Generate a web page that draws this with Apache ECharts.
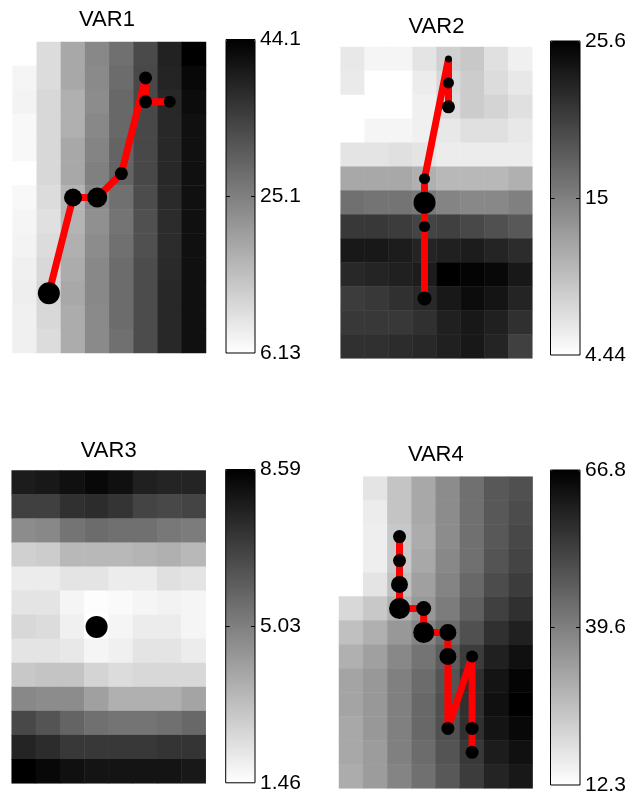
<!DOCTYPE html>
<html><head><meta charset="utf-8">
<script src="https://cdn.jsdelivr.net/npm/echarts@6/dist/echarts.min.js"></script>
<style>html,body{margin:0;padding:0;background:#fff}#c{width:642px;height:794px}</style>
</head><body><div id="c"></div>
<script>
// ---------- data ----------
const titles = ['VAR1', 'VAR2', 'VAR3', 'VAR4'];
const colCats = ['1','2','3','4','5','6','7','8'];
const rowCats = ['1','2','3','4','5','6','7','8','9','10','11','12','13'];

// cell values (rows top->bottom, 8 columns each)
const var1Values = [
  [null, 11.3, 19.1, 23.9, 27.4, 33.1, 39.0, 44.1],
  [7.6, 11.3, 19.1, 23.6, 28.0, 33.4, 38.7, 42.9],
  [7.9, 11.9, 17.9, 23.3, 28.6, 33.4, 38.1, 42.3],
  [7.2, 11.9, 17.9, 23.9, 28.6, 33.4, 38.1, 41.7],
  [7.2, 11.9, 19.1, 24.5, 29.2, 33.4, 38.1, 41.7],
  [6.13, 11.9, 19.1, 25.0, 29.2, 33.4, 38.1, 41.7],
  [7.2, 11.3, 17.3, 23.9, 27.4, 32.8, 37.9, 41.7],
  [7.6, 10.8, 17.3, 22.7, 26.8, 32.2, 37.6, 41.7],
  [7.9, 11.3, 17.9, 23.3, 27.4, 32.2, 37.6, 41.7],
  [8.4, 11.9, 18.5, 23.9, 28.0, 32.8, 37.9, 41.7],
  [8.7, 12.2, 19.1, 23.9, 28.0, 32.8, 38.1, 41.7],
  [8.4, 11.9, 18.5, 23.6, 28.0, 32.8, 38.1, 41.7],
  [8.4, 11.3, 18.5, 23.6, 27.4, 32.8, 38.1, 41.7]
];
const var2Values = [
  [6.35, 5.27, 5.27, 6.68, 8.34, 9.0, 7.01, 5.68],
  [6.18, 4.44, 4.44, 6.02, 7.68, 8.67, 7.34, 6.35],
  [4.44, 4.44, 4.44, 5.68, 7.34, 8.67, 8.01, 7.01],
  [4.44, 5.27, 5.27, 5.68, 6.35, 7.01, 7.01, 6.35],
  [6.68, 6.68, 7.01, 6.68, 6.02, 6.02, 6.02, 6.02],
  [11.66, 11.66, 11.66, 11.0, 10.33, 10.33, 10.33, 11.0],
  [16.31, 15.97, 15.97, 15.64, 14.65, 14.31, 14.31, 14.98],
  [20.95, 20.95, 20.62, 19.96, 20.29, 19.63, 18.96, 18.3],
  [23.61, 23.61, 23.28, 22.61, 22.94, 23.28, 22.61, 21.95],
  [22.28, 22.61, 22.94, 23.28, 25.6, 25.27, 24.94, 23.61],
  [20.62, 20.95, 21.62, 22.28, 23.61, 24.6, 23.94, 22.61],
  [20.95, 20.95, 20.95, 21.62, 22.94, 23.61, 22.94, 21.62],
  [21.62, 21.62, 21.95, 22.28, 22.94, 23.61, 22.61, 20.29]
];
const var3Values = [
  [7.81, 7.92, 8.14, 8.37, 8.14, 7.70, 7.58, 7.58],
  [6.80, 6.80, 7.25, 7.36, 7.14, 6.69, 6.58, 6.69],
  [4.68, 4.79, 5.35, 5.57, 5.46, 5.46, 5.23, 5.12],
  [2.77, 2.89, 3.45, 3.45, 3.45, 3.56, 3.67, 3.45],
  [1.99, 1.99, 2.22, 2.22, 1.99, 1.99, 2.33, 2.22],
  [2.22, 2.22, 1.74, 1.52, 1.60, 1.74, 1.82, 1.74],
  [2.55, 2.44, 1.88, 1.46, 1.74, 1.99, 1.99, 1.74],
  [2.22, 2.22, 2.10, 1.74, 1.88, 2.22, 2.22, 1.99],
  [3.00, 3.11, 3.11, 2.66, 2.44, 2.55, 2.55, 2.55],
  [4.79, 4.68, 4.68, 4.12, 3.67, 3.67, 3.67, 4.00],
  [6.58, 6.24, 5.79, 5.46, 5.35, 5.35, 5.46, 5.68],
  [7.58, 7.36, 7.02, 7.02, 7.02, 7.02, 7.14, 7.14],
  [8.59, 8.37, 8.14, 8.03, 8.03, 8.03, 8.03, 7.92]
];
const var4Values = [
  [null, 18.07, 24.91, 30.89, 36.88, 42.86, 47.99, 49.70],
  [null, 16.36, 24.91, 30.89, 36.88, 42.86, 47.99, 50.56],
  [null, 15.93, 24.05, 30.04, 36.88, 42.86, 47.99, 51.41],
  [null, 15.93, 24.05, 30.89, 37.73, 42.86, 48.85, 52.27],
  [12.3, 18.07, 25.76, 32.60, 38.59, 44.57, 50.56, 53.98],
  [20.63, 24.05, 29.18, 34.31, 40.30, 46.28, 53.12, 56.54],
  [25.76, 29.18, 34.31, 38.59, 43.72, 49.70, 56.54, 59.96],
  [29.18, 32.60, 37.73, 42.01, 47.14, 53.98, 59.96, 63.38],
  [31.75, 34.31, 39.44, 43.72, 48.85, 56.54, 62.53, 65.95],
  [31.75, 34.31, 39.44, 44.57, 49.70, 56.54, 63.38, 66.8],
  [30.89, 34.31, 39.44, 44.57, 49.70, 56.54, 62.53, 65.10],
  [30.89, 33.46, 39.44, 43.72, 48.85, 54.83, 60.82, 63.38],
  [30.04, 33.46, 38.59, 42.86, 47.99, 53.98, 59.11, 61.67]
];

// colour-scale ranges and colorbar tick labels
const var1Range = [6.13, 44.1];
const var2Range = [4.44, 25.6];
const var3Range = [1.46, 8.59];
const var4Range = [12.3, 66.8];
const var1Ticks = [6.13, 25.1, 44.1];
const var2Ticks = [4.44, 15, 25.6];
const var3Ticks = [1.46, 5.03, 8.59];
const var4Ticks = [12.3, 39.6, 66.8];

// tracked paths (column index, row index) and dot sizes
const var1PathCol = [1, 2, 3, 4, 5, 5, 6];
const var1PathRow = [10, 6, 6, 5, 1, 2, 2];
const var1DotSize = [22, 18, 20, 13, 13, 13, 12];
const var2PathCol = [4, 4, 4, 3, 3, 3, 3];
const var2PathRow = [2, 1, 0, 5, 6, 7, 10];
const var2DotSize = [13, 11, 7, 11, 22, 11, 14];
const var3PathCol = [3];
const var3PathRow = [6];
const var3DotSize = [22];
const var4PathCol = [2, 2, 2, 2, 3, 3, 4, 4, 4, 5, 5, 5];
const var4PathRow = [2, 3, 4, 5, 5, 6, 6, 7, 10, 7, 10, 11];
const var4DotSize = [13, 13, 17, 21, 15, 21, 17, 17, 13, 12, 13, 13];

// ---------- layout (pixels) ----------
const layout = [
  {map: {left: 12.6, top: 42, width: 193.4, height: 311}, bar: {left: 226, top: 39.5, width: 29, height: 313.5}, title: {x: 107, y: 9}},
  {map: {left: 340.7, top: 47, width: 191.6, height: 311.3}, bar: {left: 550.5, top: 41, width: 29.5, height: 314}, title: {x: 436.5, y: 15.5}},
  {map: {left: 11.7, top: 470.5, width: 194, height: 312.8}, bar: {left: 225.7, top: 469.5, width: 29.3, height: 313.3}, title: {x: 108.7, y: 439.5}},
  {map: {left: 339, top: 476.7, width: 193.6, height: 311.6}, bar: {left: 550.5, top: 470, width: 29.5, height: 315}, title: {x: 435.8, y: 444}}
];

const panels = [
  {values: var1Values, range: var1Range, ticks: var1Ticks, pc: var1PathCol, pr: var1PathRow, ps: var1DotSize},
  {values: var2Values, range: var2Range, ticks: var2Ticks, pc: var2PathCol, pr: var2PathRow, ps: var2DotSize},
  {values: var3Values, range: var3Range, ticks: var3Ticks, pc: var3PathCol, pr: var3PathRow, ps: var3DotSize},
  {values: var4Values, range: var4Range, ticks: var4Ticks, pc: var4PathCol, pr: var4PathRow, ps: var4DotSize}
];

const FONT = "'Liberation Sans', Arial, sans-serif";
const grid = [], xAxis = [], yAxis = [], series = [], visualMap = [], title = [];

panels.forEach((p, i) => {
  const L = layout[i];
  const gMap = grid.length;
  grid.push(Object.assign({show: false, containLabel: false, outerBoundsMode: 'none'}, L.map));
  const gBar = grid.length;
  grid.push(Object.assign({show: true, containLabel: false, outerBoundsMode: 'none', borderColor: '#000', borderWidth: 1,
    backgroundColor: 'rgba(0,0,0,0)', z: 20}, L.bar));

  const xMap = xAxis.length;
  xAxis.push({type: 'category', gridIndex: gMap, data: colCats, show: false});
  xAxis.push({type: 'value', gridIndex: gBar, show: false, min: 0, max: 1});

  const yMap = yAxis.length;
  yAxis.push({type: 'category', gridIndex: gMap, data: rowCats, inverse: true, show: false});
  const mid = p.ticks[1];
  // labels to the right of the colorbar
  yAxis.push({type: 'value', gridIndex: gBar, position: 'right', min: p.range[0], max: p.range[1], z: 20,
    axisLine: {show: false}, splitLine: {show: false}, axisTick: {show: false},
    axisLabel: {show: true, customValues: p.ticks, margin: 5, color: '#000', fontSize: 21, fontFamily: FONT,
      formatter: v => String(v)}});
  // inward tick on the left edge
  yAxis.push({type: 'value', gridIndex: gBar, position: 'left', min: p.range[0], max: p.range[1], z: 20,
    axisLine: {show: false}, splitLine: {show: false}, axisLabel: {show: false},
    axisTick: {show: true, inside: true, length: 4, customValues: [mid], lineStyle: {color: '#000', width: 1}}});
  // inward tick on the right edge
  yAxis.push({type: 'value', gridIndex: gBar, position: 'left', offset: -L.bar.width, min: p.range[0], max: p.range[1], z: 20,
    axisLine: {show: false}, splitLine: {show: false}, axisLabel: {show: false},
    axisTick: {show: true, inside: false, length: 4, customValues: [mid], lineStyle: {color: '#000', width: 1}}});

  const cells = [];
  p.values.forEach((row, r) => row.forEach((v, c) => { if (v !== null) cells.push([c, r, v]); }));
  const sHeat = series.length;
  series.push({type: 'heatmap', xAxisIndex: xMap, yAxisIndex: yMap, data: cells, itemStyle: {borderWidth: 0}, emphasis: {disabled: true}});
  const pts = p.pc.map((c, k) => [c, p.pr[k]]);
  series.push({type: 'line', xAxisIndex: xMap, yAxisIndex: yMap, data: pts, z: 5,
    symbol: 'circle', symbolSize: (val, params) => p.ps[params.dataIndex],
    lineStyle: {color: '#ff0000', width: 7}, itemStyle: {color: '#000'}, emphasis: {disabled: true}});

  visualMap.push({type: 'continuous', seriesIndex: sHeat, min: p.range[0], max: p.range[1], calculable: false,
    show: true, left: L.bar.left, top: L.bar.top, itemWidth: L.bar.width, itemHeight: L.bar.height, padding: 0,
    text: null, z: 1, inRange: {color: ['#ffffff', '#000000']}, hoverLink: false});

  title.push({text: titles[i], left: L.title.x, top: L.title.y, textAlign: 'center', padding: 0,
    textStyle: {fontSize: 22, fontWeight: 'normal', color: '#000', fontFamily: FONT}});
});

const chart = echarts.init(document.getElementById('c'), null, {renderer: 'canvas'});
chart.setOption({animation: false, backgroundColor: '#fff', title, grid, xAxis, yAxis, visualMap, series});
</script></body></html>
